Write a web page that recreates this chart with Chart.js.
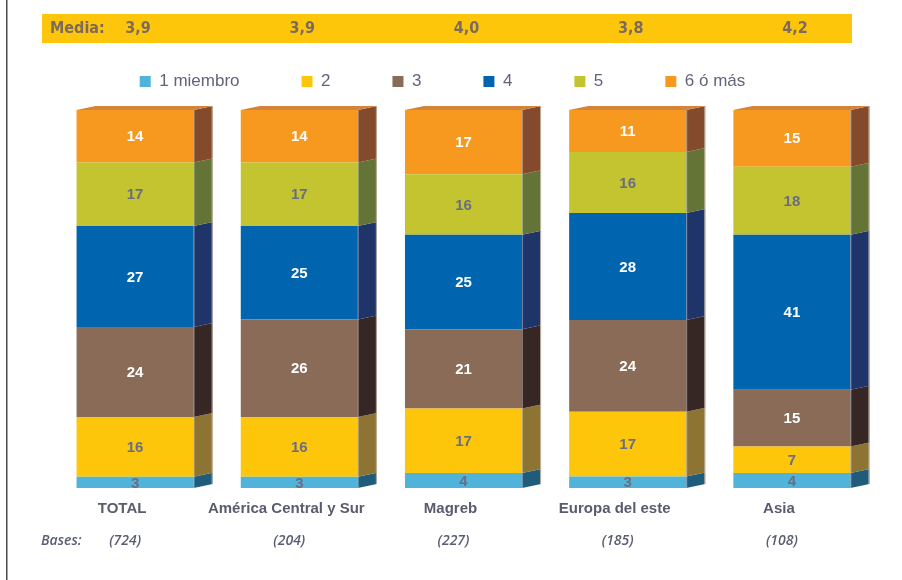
<!DOCTYPE html>
<html>
<head>
<meta charset="utf-8">
<script src="https://cdn.jsdelivr.net/npm/chart.js@4"></script>
<style>
  html, body { margin: 0; padding: 0; background: #fff; }
  #wrap { width: 902px; height: 580px; position: relative; }
</style>
</head>
<body>
<div id="wrap"><canvas id="hogares"></canvas></div>
<script>
  const categories = ['TOTAL', 'América Central y Sur', 'Magreb', 'Europa del este', 'Asia'];
  const bases = ['(724)', '(204)', '(227)', '(185)', '(108)'];
  const media = ['3,9', '3,9', '4,0', '3,8', '4,2'];
  const seriesNames = ['1 miembro', '2', '3', '4', '5', '6 ó más'];
  const miembro1 = [3, 3, 4, 3, 4];
  const miembros2 = [16, 16, 17, 17, 7];
  const miembros3 = [24, 26, 21, 24, 15];
  const miembros4 = [27, 25, 25, 28, 41];
  const miembros5 = [17, 17, 16, 16, 18];
  const miembros6 = [14, 14, 17, 11, 15];

  const series = [miembro1, miembros2, miembros3, miembros4, miembros5, miembros6];
  const frontColors = ['#4fb3da', '#fdc60b', '#8a6b57', '#0064ae', '#c3c430', '#f7991e'];
  const sideColors = ['#1f5b7a', '#8e7433', '#372724', '#1f3569', '#647437', '#834b2b'];
  const topColor = '#d4843a';
  const labelColors = ['#6b6d80', '#6b6d80', '#ffffff', '#ffffff', '#6b6d80', '#ffffff'];
  const depthX = 19;
  const depthY = 4;

  // percent stacked, like the original: every column adds up to 100
  const totals = categories.map((_, i) => series.reduce((acc, s) => acc + s[i], 0));
  const datasets = series.map((s, di) => ({
    label: seriesNames[di],
    data: s.map((v, i) => v / totals[i] * 100),
    backgroundColor: frontColors[di],
    borderWidth: 0,
    categoryPercentage: 1,
    barPercentage: 0.713
  }));

  const legendFit = {
    id: 'legendFit',
    beforeInit(chart) {
      const legend = chart.legend;
      const fit = legend.fit;
      legend.fit = function () {
        fit.call(this);
        this.height = 99;
      };
    },
    afterLayout(chart) {
      chart.legend.left -= 21;
      chart.legend.right -= 21;
    }
  };

  const frame = {
    id: 'frame',
    beforeDraw(chart) {
      const ctx = chart.ctx;
      const xScale = chart.scales.x;
      ctx.save();
      ctx.fillStyle = '#4a4a4a';
      ctx.fillRect(6, 0, 1.5, chart.height);

      ctx.fillStyle = '#fdc60b';
      ctx.fillRect(42, 14, 810, 29);
      ctx.fillStyle = '#7b6a5d';
      ctx.font = 'bold 16px "Liberation Sans Narrow", "DejaVu Sans Condensed", sans-serif';
      ctx.textBaseline = 'middle';
      ctx.textAlign = 'left';
      ctx.fillText('Media:', 50, 29);
      ctx.textAlign = 'center';
      media.forEach((m, i) => {
        ctx.fillText(m, xScale.getPixelForValue(i) + 3, 29);
      });
      ctx.restore();
    },
    afterDraw(chart) {
      const ctx = chart.ctx;
      const xScale = chart.scales.x;
      ctx.save();
      ctx.fillStyle = '#5a5d73';
      ctx.font = 'italic 600 14px "Open Sans", "Liberation Sans", sans-serif';
      ctx.textBaseline = 'middle';
      ctx.textAlign = 'left';
      ctx.fillText('Bases:', 41, 541);
      ctx.textAlign = 'center';
      bases.forEach((b, i) => {
        ctx.fillText(b, xScale.getPixelForValue(i) - 10, 541);
      });
      ctx.restore();
    }
  };

  const cube3d = {
    id: 'cube3d',
    afterDatasetsDraw(chart) {
      const ctx = chart.ctx;
      const last = chart.data.datasets.length - 1;
      ctx.save();
      chart.data.datasets.forEach((ds, di) => {
        const meta = chart.getDatasetMeta(di);
        meta.data.forEach((bar) => {
          const { x, y, base, width } = bar.getProps(['x', 'y', 'base', 'width'], true);
          const left = x - width / 2;
          const right = x + width / 2;
          ctx.fillStyle = sideColors[di];
          ctx.beginPath();
          ctx.moveTo(right, y);
          ctx.lineTo(right + depthX, y - depthY);
          ctx.lineTo(right + depthX, base - depthY);
          ctx.lineTo(right, base);
          ctx.closePath();
          ctx.fill();
          if (di === last) {
            ctx.fillStyle = topColor;
            ctx.beginPath();
            ctx.moveTo(left, y);
            ctx.lineTo(left + depthX, y - depthY);
            ctx.lineTo(right + depthX, y - depthY);
            ctx.lineTo(right, y);
            ctx.closePath();
            ctx.fill();
          }
        });
      });

      // edges of each column
      const topMeta = chart.getDatasetMeta(last);
      topMeta.data.forEach((bar, i) => {
        const { x, y, width } = bar.getProps(['x', 'y', 'width'], true);
        const baseY = chart.getDatasetMeta(0).data[i].getProps(['base'], true).base;
        const right = x + width / 2;
        ctx.strokeStyle = 'rgba(200, 185, 170, 0.9)';
        ctx.lineWidth = 1;
        ctx.beginPath();
        ctx.moveTo(right + depthX - 0.5, y - depthY);
        ctx.lineTo(right + depthX - 0.5, baseY - depthY);
        ctx.stroke();
        ctx.strokeStyle = 'rgba(255, 255, 255, 0.35)';
        ctx.beginPath();
        ctx.moveTo(right + 0.5, y);
        ctx.lineTo(right + 0.5, baseY);
        ctx.stroke();
      });

      // value labels
      ctx.font = 'bold 15px "Liberation Sans", Arial, sans-serif';
      ctx.textAlign = 'center';
      ctx.textBaseline = 'middle';
      chart.data.datasets.forEach((ds, di) => {
        const meta = chart.getDatasetMeta(di);
        meta.data.forEach((bar, i) => {
          const { x, y, base } = bar.getProps(['x', 'y', 'base'], true);
          ctx.fillStyle = labelColors[di];
          ctx.fillText(String(series[di][i]), x, (y + base) / 2 + 1);
        });
      });
      ctx.restore();
    }
  };

  new Chart(document.getElementById('hogares'), {
    type: 'bar',
    data: { labels: categories, datasets },
    plugins: [legendFit, frame, cube3d],
    options: {
      responsive: true,
      maintainAspectRatio: false,
      animation: false,
      layout: { padding: { top: 11, left: 53, right: 28, bottom: 50 } },
      plugins: {
        tooltip: { enabled: false },
        legend: {
          position: 'top',
          labels: {
            boxWidth: 11,
            boxHeight: 11,
            padding: 62,
            color: '#62647a',
            font: { family: '"Liberation Sans", Arial, sans-serif', size: 17 }
          }
        }
      },
      scales: {
        x: {
          stacked: true,
          grid: { display: false, drawTicks: false },
          border: { display: false },
          ticks: {
            color: '#595b6e',
            padding: 12,
            labelOffset: -13,
            maxRotation: 0,
            autoSkip: false,
            font: { family: '"Liberation Sans", Arial, sans-serif', size: 15, weight: 'bold' }
          }
        },
        y: {
          stacked: true,
          display: false,
          min: 0,
          max: 100
        }
      }
    }
  });
</script>
</body>
</html>
